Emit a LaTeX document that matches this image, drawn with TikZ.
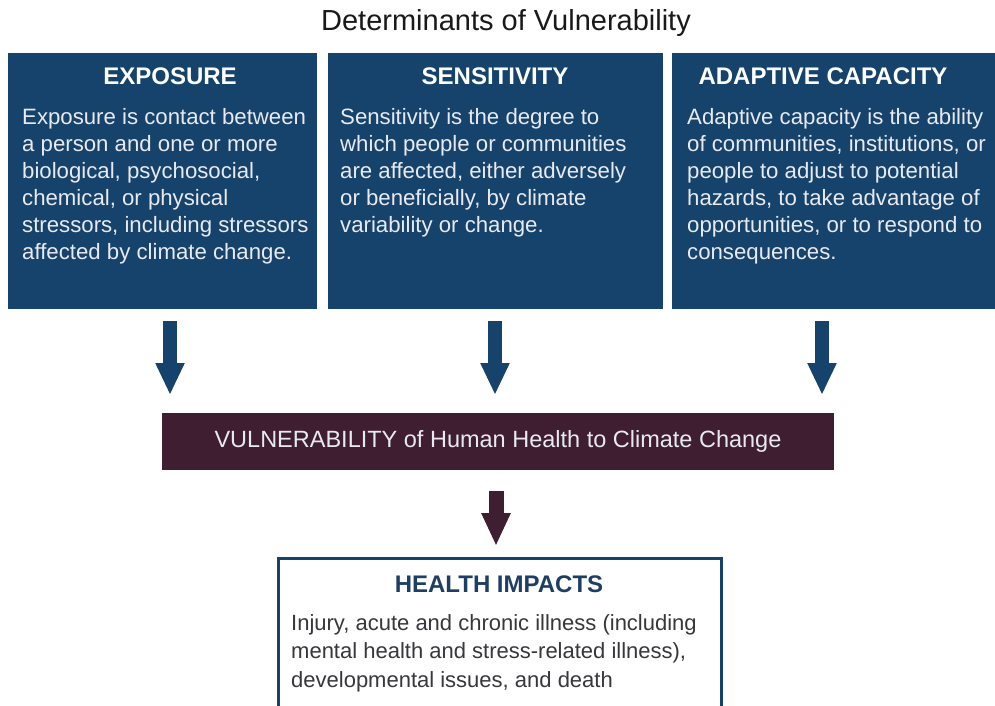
\documentclass[tikz,border=0pt]{standalone}
\usepackage{fontspec}
\setmainfont{Liberation Sans}
\usetikzlibrary{arrows.meta}
\definecolor{navy}{RGB}{22,67,107}
\definecolor{plum}{RGB}{62,30,48}
\definecolor{bodylight}{RGB}{232,234,240}
\definecolor{darktext}{RGB}{55,55,60}
\definecolor{headnavy}{RGB}{30,62,100}
\begin{document}
\begin{tikzpicture}[x=1pt,y=-1pt,
  bluebox/.style={fill=navy,draw=none,anchor=north west,inner sep=0pt},
  headtext/.style={anchor=base,text=white,font=\bfseries\fontsize{24}{28}\selectfont,inner sep=0pt},
  bodytext/.style={anchor=north west,align=left,text=bodylight,font=\fontsize{22.2}{27}\selectfont,inner sep=0pt},
  bluearrow/.style={draw=navy,line width=14pt,-{Triangle[width=27pt,length=32pt]},shorten <=12pt,shorten >=18pt},
  plumarrow/.style={draw=plum,line width=15pt,-{Triangle[width=27pt,length=33pt]},shorten <=21pt,shorten >=11pt}]
\useasboundingbox (0,0) rectangle (995,706);
\fill[white] (0,0) rectangle (995,706);

\node[anchor=base,text=black!90,font=\fontsize{29}{34}\selectfont,inner sep=0pt] (title) at (506,31) {Determinants of Vulnerability};

\node[bluebox,minimum width=309pt,minimum height=256pt] (expo) at (8,53) {};
\node[bluebox,minimum width=335pt,minimum height=256pt] (sens) at (328,53) {};
\node[bluebox,minimum width=323pt,minimum height=256pt] (adap) at (672,53) {};

\node[headtext] (h1) at (170,85) {EXPOSURE};
\node[headtext] (h2) at (495,85) {SENSITIVITY};
\node[headtext] (h3) at (823,85) {ADAPTIVE CAPACITY};

\node[bodytext] (b1) at (22,108) {Exposure is contact between\\a person and one or more\\biological, psychosocial,\\chemical, or physical\\stressors, including stressors\\affected by climate change.};
\node[bodytext] (b2) at (340,108) {Sensitivity is the degree to\\which people or communities\\are affected, either adversely\\or beneficially, by climate\\variability or change.};
\node[bodytext] (b3) at (687,108) {Adaptive capacity is the ability\\of communities, institutions, or\\people to adjust to potential\\hazards, to take advantage of\\opportunities, or to respond to\\consequences.};

\node[fill=plum,anchor=north west,minimum width=672pt,minimum height=57pt,inner sep=0pt] (vul) at (162,413) {};
\node[anchor=base,text=bodylight,font=\fontsize{23.5}{28}\selectfont,inner sep=0pt] (vt) at (498,447) {VULNERABILITY of Human Health to Climate Change};

\draw[bluearrow] (expo.south -| h1) -- (vul.north -| h1);
\draw[bluearrow] (sens.south -| h2) -- (vul.north -| h2);
\draw[bluearrow] (adap.south -| 822,0) -- (vul.north -| 822,0);

\node[draw=navy,line width=3pt,fill=white,anchor=north west,minimum width=443pt,minimum height=149pt,inner sep=0pt] (health) at (277,557) {};
\node[anchor=base,text=headnavy,font=\bfseries\fontsize{24}{28}\selectfont,inner sep=0pt] (ht) at (499,592) {HEALTH IMPACTS};
\node[anchor=north west,align=left,text=darktext,font=\fontsize{22}{28.5}\selectfont,inner sep=0pt] (hb) at (291,614) {Injury, acute and chronic illness (including\\mental health and stress-related illness),\\developmental issues, and death};

\draw[plumarrow] (vul.south -| 496,0) -- (health.north -| 496,0);
\end{tikzpicture}
\end{document}
